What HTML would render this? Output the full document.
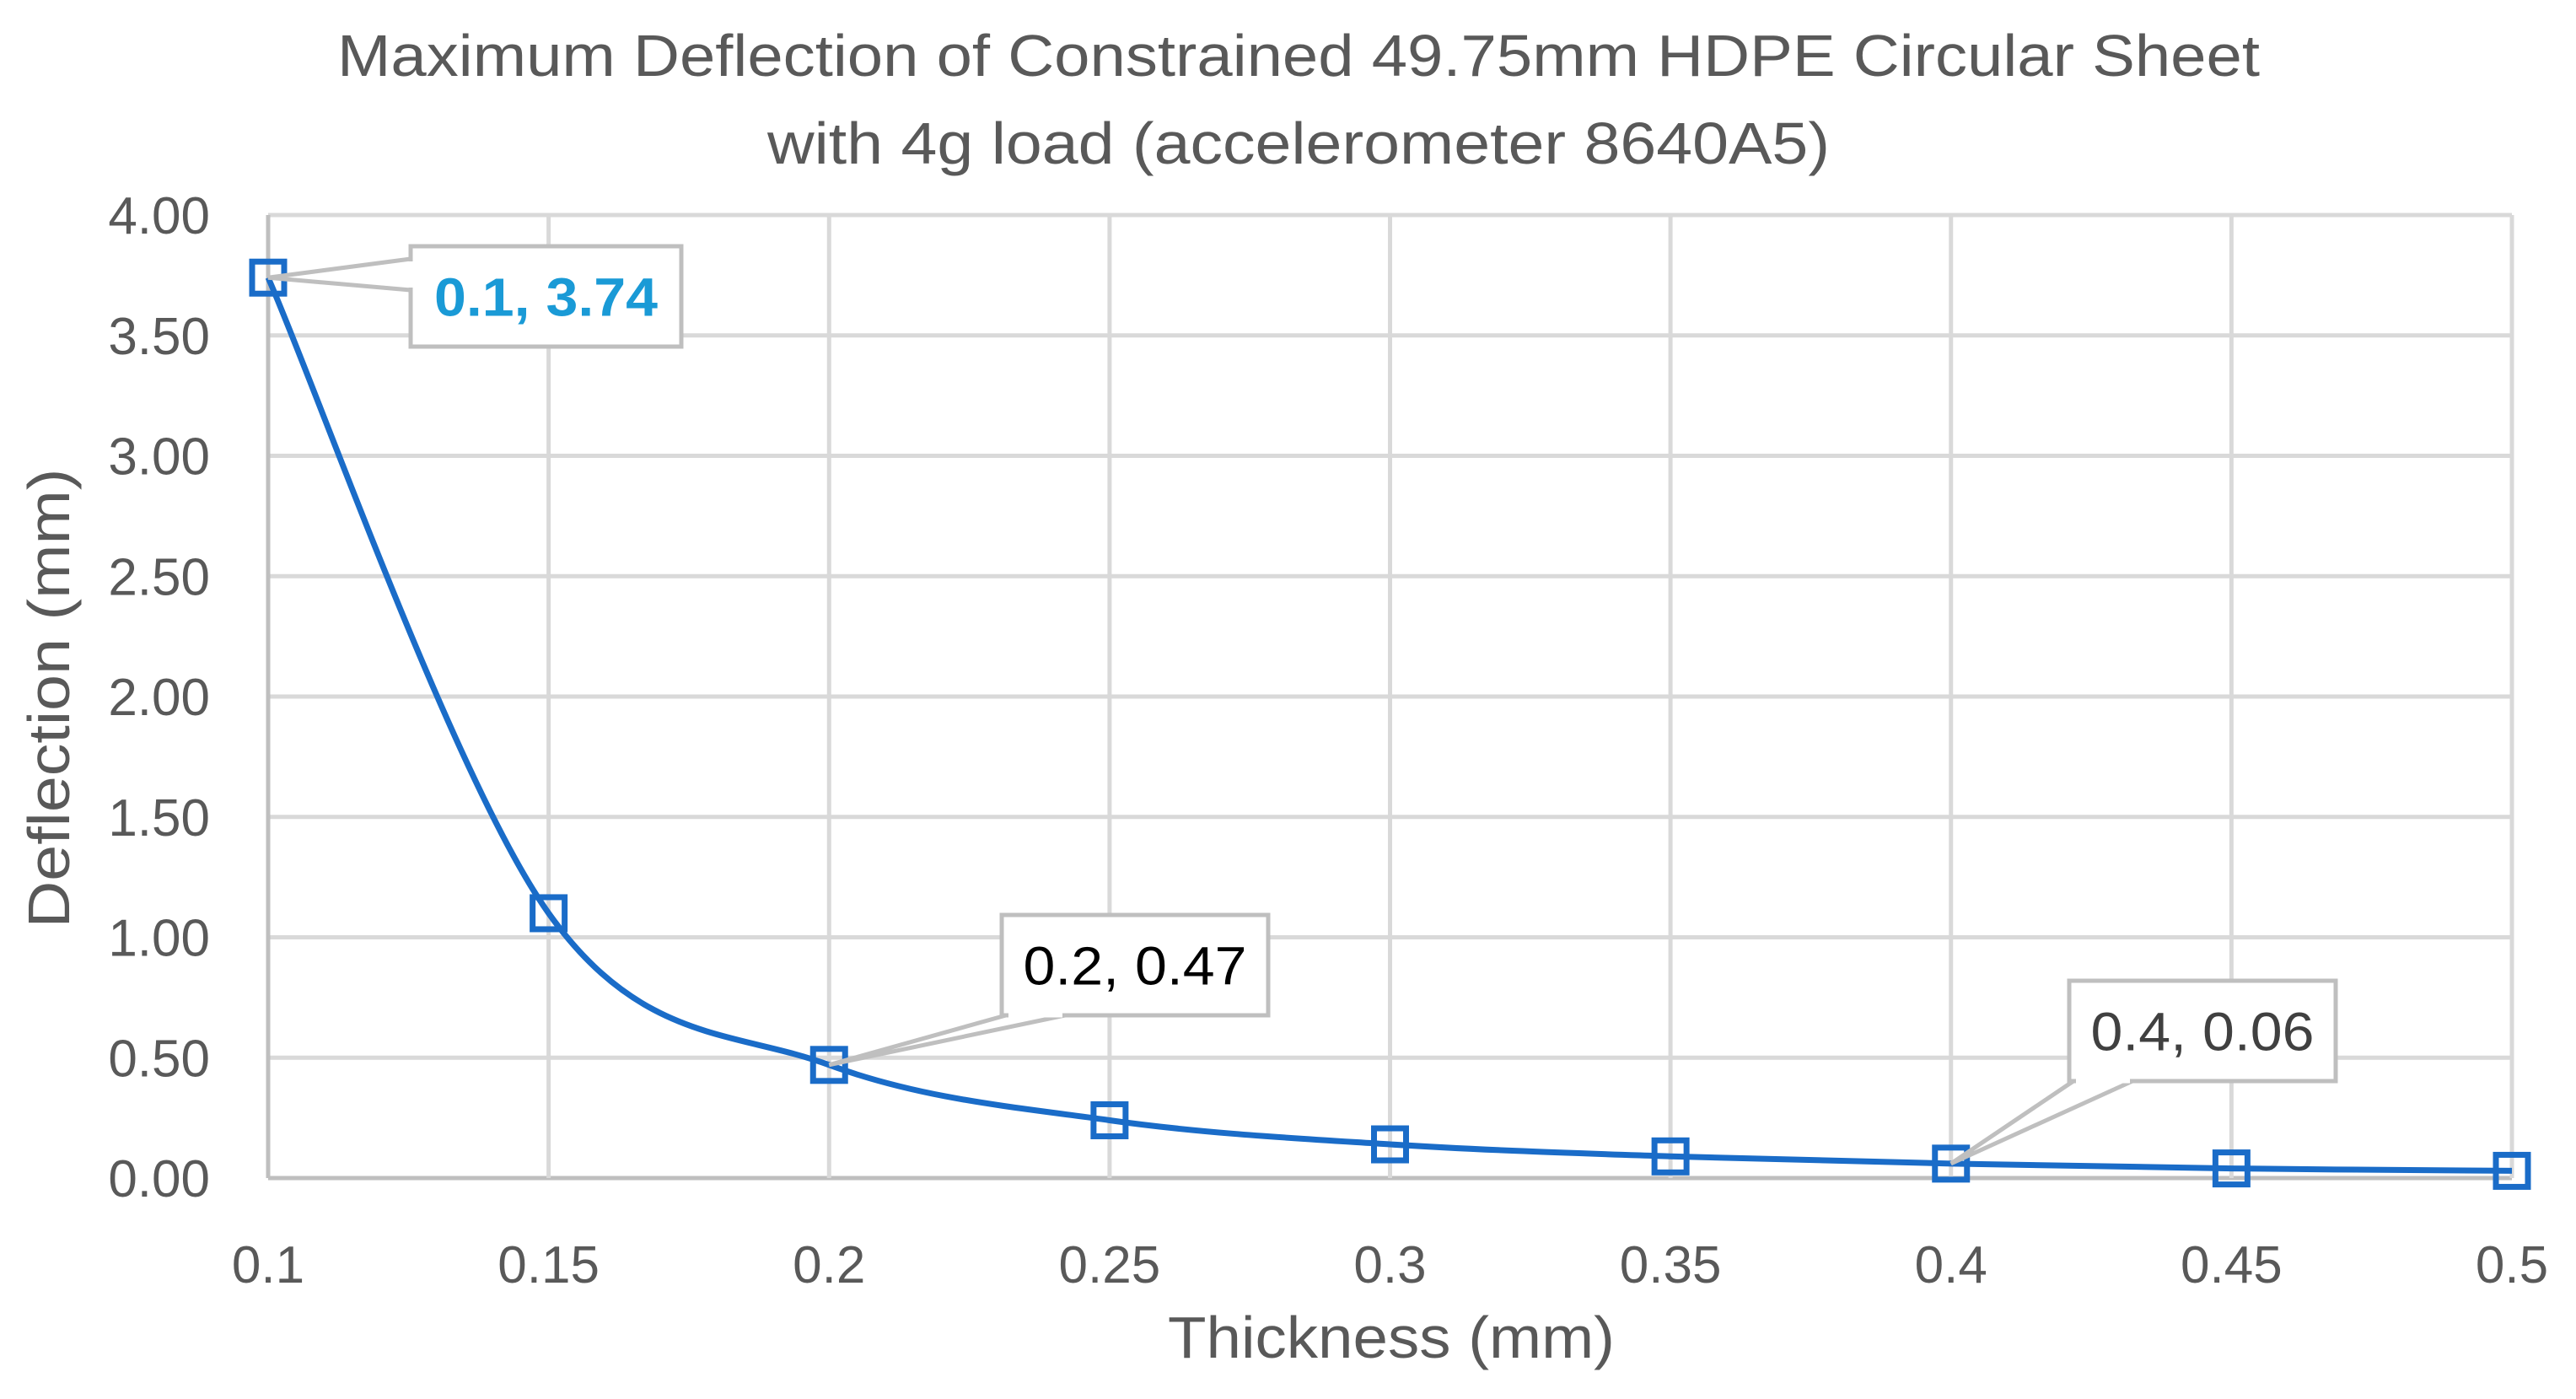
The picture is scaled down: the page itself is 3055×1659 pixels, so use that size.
<!DOCTYPE html>
<html><head><meta charset="utf-8"><style>
html,body{margin:0;padding:0;background:#fff;}
svg{display:block;font-family:"Liberation Sans",sans-serif;}
</style></head><body>
<svg id="chart" width="3055" height="1659" viewBox="0 0 3055 1659" xmlns="http://www.w3.org/2000/svg">
<rect width="3055" height="1659" fill="#fff"/>
<text x="1540" y="90" text-anchor="middle" font-size="70" fill="#595959" textLength="2280" lengthAdjust="spacingAndGlyphs">Maximum Deflection of Constrained 49.75mm HDPE Circular Sheet</text>
<text x="1540" y="194" text-anchor="middle" font-size="70" fill="#595959" textLength="1260" lengthAdjust="spacingAndGlyphs">with 4g load (accelerometer 8640A5)</text>
<g id="grid"></g>
<g id="yticks"></g>
<g id="xticks"></g>
<text x="1650" y="1610" text-anchor="middle" font-size="70" fill="#595959" textLength="530" lengthAdjust="spacingAndGlyphs">Thickness (mm)</text>
<text transform="translate(82,828) rotate(-90)" text-anchor="middle" font-size="70" fill="#595959" textLength="545" lengthAdjust="spacingAndGlyphs">Deflection (mm)</text>
<g id="series"></g>
<g id="labels"></g>
</svg>
<script>
const thickness = [0.1, 0.15, 0.2, 0.25, 0.3, 0.35, 0.4, 0.45, 0.5];
const deflection = [3.74, 1.10, 0.47, 0.24, 0.14, 0.09, 0.06, 0.04, 0.03];
const xTickLabels = ["0.1","0.15","0.2","0.25","0.3","0.35","0.4","0.45","0.5"];
const yTickLabels = ["0.00","0.50","1.00","1.50","2.00","2.50","3.00","3.50","4.00"];
const labelIdx = [0, 2, 6];

const NS = "http://www.w3.org/2000/svg";
const L = 318, R = 2979, T = 255, B = 1397;
const xMin = 0.1, xMax = 0.5, yMin = 0, yMax = 4;
const xs = v => L + (v - xMin) / (xMax - xMin) * (R - L);
const ys = v => B - (v - yMin) / (yMax - yMin) * (B - T);
function mk(tag, attrs, parent) {
  const e = document.createElementNS(NS, tag);
  for (const k in attrs) e.setAttribute(k, attrs[k]);
  parent.appendChild(e);
  return e;
}
const grid = document.getElementById('grid');
yTickLabels.forEach((t, i) => {
  const v = parseFloat(t);
  const ln = mk('line', {x1: L, x2: R, y1: ys(v), y2: ys(v), stroke: i === 0 ? '#bfbfbf' : '#d9d9d9', 'stroke-width': 5}, grid);
  
  
  const tx = mk('text', {x: 249, y: ys(v) + 22, 'text-anchor': 'end', 'font-size': 62, fill: '#595959'}, document.getElementById('yticks'));
  tx.textContent = t;
  
  
});
xTickLabels.forEach((t, i) => {
  const v = parseFloat(t);
  const ln = mk('line', {x1: xs(v), x2: xs(v), y1: T, y2: B, stroke: i === 0 ? '#bfbfbf' : '#d9d9d9', 'stroke-width': 5}, grid);
  
  
  const tx = mk('text', {x: xs(v), y: 1521, 'text-anchor': 'middle', 'font-size': 62, fill: '#595959'}, document.getElementById('xticks'));
  tx.textContent = t;
  
  
});
const pts = thickness.map((t, i) => [xs(t), ys(deflection[i])]);
let d = `M${pts[0][0]},${pts[0][1]}`;
for (let i = 0; i < pts.length - 1; i++) {
  const p0 = pts[Math.max(0, i - 1)], p1 = pts[i], p2 = pts[i + 1], p3 = pts[Math.min(pts.length - 1, i + 2)];
  const k = 6;
  const c1 = [p1[0] + (p2[0] - p0[0]) / k, p1[1] + (p2[1] - p0[1]) / k];
  const c2 = [p2[0] - (p3[0] - p1[0]) / k, p2[1] - (p3[1] - p1[1]) / k];
  d += ` C${c1[0]},${c1[1]} ${c2[0]},${c2[1]} ${p2[0]},${p2[1]}`;
}
const series = document.getElementById('series');
const path = mk('path', {d: d, fill: 'none', stroke: '#1a6cc8', 'stroke-width': 7}, series);


pts.forEach(p => {
  const r = mk('rect', {x: p[0] - 19, y: p[1] - 19, width: 38, height: 38, fill: 'none', stroke: '#1a6cc8', 'stroke-width': 7}, series);
  
  
});
const boxes = [
  {x: 487, y: 292, w: 321, h: 119, ax: 'left', color: '#1a9ad6', bold: true},
  {x: 1188, y: 1085, w: 316, h: 119, ax: 'bottom', color: '#000', bold: false},
  {x: 2454, y: 1163, w: 316, h: 119, ax: 'bottom', color: '#404040', bold: false}
];
const lg = document.getElementById('labels');
labelIdx.forEach((idx, j) => {
  const b = boxes[j];
  const px = xs(thickness[idx]), py = ys(deflection[idx]);
  let pd;
  if (b.ax === 'left') {
    pd = `M${b.x},${b.y + 15} L${px},${py} L${b.x},${b.y + 52}`;
  } else {
    pd = `M${b.x + 5},${b.y + b.h} L${px},${py} L${b.x + 75},${b.y + b.h}`;
  }
  const ptr = mk('path', {d: pd, fill: '#fff', stroke: '#bfbfbf', 'stroke-width': 5}, lg);
  
  
  const rc = mk('rect', {x: b.x, y: b.y, width: b.w, height: b.h, fill: '#fff', stroke: '#bfbfbf', 'stroke-width': 5}, lg);
  
  
  const tx = mk('text', {x: b.x + b.w / 2, y: b.y + b.h / 2 + 23, 'text-anchor': 'middle', 'font-size': 64, fill: b.color, 'font-weight': b.bold ? 'bold' : 'normal', textLength: 265, lengthAdjust: 'spacingAndGlyphs'}, lg);
  tx.textContent = thickness[idx] + ', ' + deflection[idx].toFixed(2);
  
  
  const mask = mk('line', b.ax === 'left'
    ? {x1: b.x, x2: b.x, y1: b.y + 18, y2: b.y + 49, stroke: '#fff', 'stroke-width': 5}
    : {x1: b.x + 8, x2: b.x + 72, y1: b.y + b.h, y2: b.y + b.h, stroke: '#fff', 'stroke-width': 5}, lg);
  
  
});
</script>
</body></html>
